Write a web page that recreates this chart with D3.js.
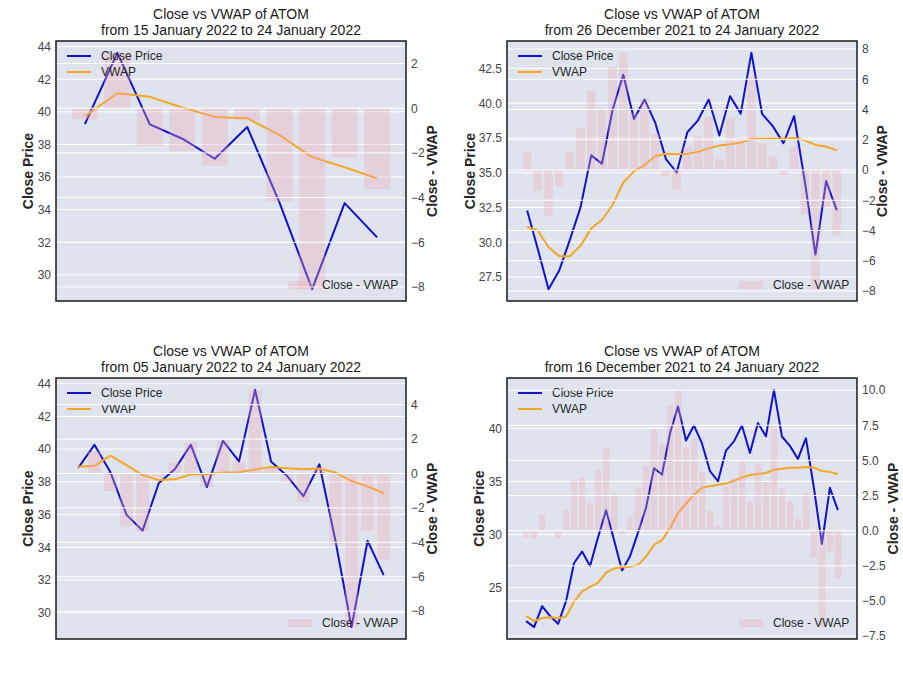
<!DOCTYPE html>
<html>
<head>
<meta charset="utf-8">
<script src="https://cdn.jsdelivr.net/npm/d3@7"></script>
<style>
  body { margin: 0; background: #fff; }
  svg { font-family: "Liberation Sans", Arial, sans-serif; }
</style>
</head>
<body>
<svg id="chart" width="903" height="677"></svg>
<script>
// daily close of ATOM, 16 Dec 2021 .. 24 Jan 2022
const closePrice = [21.86, 21.29, 23.27, 22.33, 21.6, 23.74, 27.33, 28.4, 27.04, 29.75,
    32.29, 29.5, 26.63, 27.97, 30.18, 32.53, 36.25, 35.65, 39.53, 42.05,
    38.86, 40.26, 38.58, 35.98, 35.02, 37.91, 38.77, 40.26, 37.68, 40.5,
    39.25, 43.62, 39.23, 38.35, 37.12, 39.07, 34.4, 29.12, 34.4, 32.3];

// VWAP per window
const vwap15Jan = [39.74, 41.14, 40.92, 40.27, 39.69, 39.61, 38.57, 37.22, 36.6, 35.92];
const vwap26Dec = [31.1, 30.85, 29.65, 29.0, 29.0, 29.75, 31.0, 31.6, 32.7, 34.3,
    35.1, 35.55, 36.2, 36.37, 36.33, 36.37, 36.5, 36.77, 36.95, 37.05,
    37.15, 37.45, 37.45, 37.47, 37.45, 37.5, 37.33, 37.0, 36.88, 36.62];
const vwap05Jan = [38.92, 38.98, 39.6, 39.02, 38.41, 38.11, 38.15, 38.45, 38.46, 38.57,
    38.58, 38.76, 38.9, 38.83, 38.77, 38.81, 38.57, 38.05, 37.72, 37.3];
const vwap16Dec = [22.34, 21.85, 22.15, 22.23, 22.12, 22.3, 23.7, 24.66, 25.08, 25.46,
    26.42, 26.8, 26.92, 26.98, 27.15, 27.92, 29.03, 29.48, 30.6, 32.03,
    32.9, 33.75, 34.4, 34.55, 34.68, 34.8, 35.07, 35.38, 35.6, 35.7,
    35.8, 36.1, 36.2, 36.28, 36.3, 36.37, 36.3, 35.98, 35.9, 35.7];

const titles = [
    "from 15 January 2022 to 24 January 2022",
    "from 26 December 2021 to 24 January 2022",
    "from 05 January 2022 to 24 January 2022",
    "from 16 December 2021 to 24 January 2022"
];
const windowDays = [10, 30, 20, 40];
const vwapSeries = [vwap15Jan, vwap26Dec, vwap05Jan, vwap16Dec];

const leftTicks = [
    [30, 32, 34, 36, 38, 40, 42, 44],
    [27.5, 30, 32.5, 35, 37.5, 40, 42.5],
    [30, 32, 34, 36, 38, 40, 42, 44],
    [25, 30, 35, 40]
];
const rightTicks = [
    [-8, -6, -4, -2, 0, 2],
    [-8, -6, -4, -2, 0, 2, 4, 6, 8],
    [-8, -6, -4, -2, 0, 2, 4],
    [-7.5, -5, -2.5, 0, 2.5, 5, 7.5, 10]
];

const panels = [
    { x: 56, y: 41, w: 350, h: 260, lOff: 23, rOff: 31 },
    { x: 507, y: 41, w: 350, h: 260, lOff: 32, rOff: 30 },
    { x: 56, y: 378, w: 350, h: 261, lOff: 23, rOff: 31 },
    { x: 507, y: 378, w: 350, h: 261, lOff: 23, rOff: 41 }
];

const bgColor = "#dee3ee";
const blue = "#1212c8";
const orange = "#f6a623";
const barFill = "rgb(244,168,178)";
const barOpacity = 0.32;

const svg = d3.select("#chart");

function pad(ext) {
    const r = ext[1] - ext[0];
    return [ext[0] - 0.05 * r, ext[1] + 0.05 * r];
}

function fmtTick(step) {
    return step % 1 === 0 ? d3.format("d") : d3.format(".1f");
}

panels.forEach(function (p, k) {
    const n = windowDays[k];
    const close = closePrice.slice(closePrice.length - n);
    const vw = vwapSeries[k];
    const diff = close.map(function (c, i) { return c - vw[i]; });

    const x = d3.scaleLinear()
        .domain(pad([-0.4, n - 1 + 0.4]))
        .range([p.x, p.x + p.w]);
    const yL = d3.scaleLinear()
        .domain(pad(d3.extent(close.concat(vw))))
        .range([p.y + p.h, p.y]);
    const yR = d3.scaleLinear()
        .domain(pad(d3.extent(diff.concat([0]))))
        .range([p.y + p.h, p.y]);

    const g = svg.append("g");

    // title
    g.append("text")
        .attr("x", p.x + p.w / 2).attr("y", p.y - 22)
        .attr("text-anchor", "middle")
        .attr("font-size", 14).attr("fill", "#1a1a1a")
        .text("Close vs VWAP of ATOM");
    g.append("text")
        .attr("x", p.x + p.w / 2).attr("y", p.y - 6)
        .attr("text-anchor", "middle")
        .attr("font-size", 14).attr("fill", "#1a1a1a")
        .text(titles[k]);

    g.append("rect")
        .attr("x", p.x).attr("y", p.y)
        .attr("width", p.w).attr("height", p.h)
        .attr("fill", bgColor);

    const clipId = "clip" + k;
    svg.append("clipPath").attr("id", clipId)
        .append("rect")
        .attr("x", p.x).attr("y", p.y)
        .attr("width", p.w).attr("height", p.h);

    // left grid
    g.append("g").selectAll("line")
        .data(leftTicks[k])
        .enter().append("line")
        .attr("x1", p.x).attr("x2", p.x + p.w)
        .attr("y1", function (d) { return yL(d); })
        .attr("y2", function (d) { return yL(d); })
        .attr("stroke", "#fff").attr("stroke-width", 1);

    const plot = g.append("g").attr("clip-path", "url(#" + clipId + ")");

    const line = d3.line()
        .x(function (d, i) { return x(i); })
        .y(function (d) { return yL(d); });

    plot.append("path").datum(close)
        .attr("d", line)
        .attr("fill", "none").attr("stroke", blue)
        .attr("stroke-width", 2).attr("stroke-linejoin", "round");
    plot.append("path").datum(vw)
        .attr("d", line)
        .attr("fill", "none").attr("stroke", orange)
        .attr("stroke-width", 2).attr("stroke-linejoin", "round");

    // legend for the lines
    const lg = g.append("g");
    [["Close Price", blue], ["VWAP", orange]].forEach(function (e, i) {
        const ly = p.y + 15 + i * 16;
        lg.append("line")
            .attr("x1", p.x + 11).attr("x2", p.x + 35)
            .attr("y1", ly).attr("y2", ly)
            .attr("stroke", e[1]).attr("stroke-width", 2);
        lg.append("text")
            .attr("x", p.x + 45).attr("y", ly + 4)
            .attr("font-size", 12).attr("fill", "#262626")
            .text(e[0]);
    });

    // right grid
    g.append("g").selectAll("line")
        .data(rightTicks[k])
        .enter().append("line")
        .attr("x1", p.x).attr("x2", p.x + p.w)
        .attr("y1", function (d) { return yR(d); })
        .attr("y2", function (d) { return yR(d); })
        .attr("stroke", "#fff").attr("stroke-width", 1);

    // bars
    const bw = x(0.8) - x(0);
    plot.append("g").selectAll("rect")
        .data(diff)
        .enter().append("rect")
        .attr("x", function (d, i) { return x(i) - bw / 2; })
        .attr("width", bw)
        .attr("y", function (d) { return yR(Math.max(0, d)); })
        .attr("height", function (d) { return Math.abs(yR(d) - yR(0)); })
        .attr("fill", barFill).attr("fill-opacity", barOpacity);

    // legend for the bars
    const by = p.y + p.h - 16;
    g.append("rect")
        .attr("x", p.x + p.w - 118).attr("y", by - 4)
        .attr("width", 24).attr("height", 8)
        .attr("fill", barFill).attr("fill-opacity", barOpacity);
    g.append("text")
        .attr("x", p.x + p.w - 84).attr("y", by + 4)
        .attr("font-size", 12).attr("fill", "#262626")
        .text("Close - VWAP");

    // frame
    g.append("rect")
        .attr("x", p.x).attr("y", p.y)
        .attr("width", p.w).attr("height", p.h)
        .attr("fill", "none").attr("stroke", "#1a1a1a").attr("stroke-width", 1.5);

    // left axis
    const stepL = leftTicks[k][1] - leftTicks[k][0];
    const axL = g.append("g")
        .attr("transform", "translate(" + p.x + ",0)")
        .call(d3.axisLeft(yL).tickValues(leftTicks[k])
            .tickFormat(fmtTick(stepL)).tickSize(0).tickPadding(5));
    axL.select(".domain").remove();
    axL.selectAll("text").attr("font-size", 12).attr("fill", "#444")
        .attr("font-family", "Liberation Sans, Arial, sans-serif");

    // right axis
    const stepR = rightTicks[k][1] - rightTicks[k][0];
    const axR = g.append("g")
        .attr("transform", "translate(" + (p.x + p.w) + ",0)")
        .call(d3.axisRight(yR).tickValues(rightTicks[k])
            .tickFormat(function (d) { return fmtTick(stepR)(d).replace("-", "\u2212"); })
            .tickSize(0).tickPadding(5));
    axR.select(".domain").remove();
    axR.selectAll("text").attr("font-size", 12).attr("fill", "#444")
        .attr("font-family", "Liberation Sans, Arial, sans-serif");

    // axis titles
    g.append("text")
        .attr("transform", "translate(" + (p.x - p.lOff) + "," + (p.y + p.h / 2) + ") rotate(-90)")
        .attr("text-anchor", "middle")
        .attr("font-size", 14).attr("font-weight", "bold").attr("fill", "#262626")
        .text("Close Price");
    g.append("text")
        .attr("transform", "translate(" + (p.x + p.w + p.rOff) + "," + (p.y + p.h / 2) + ") rotate(-90)")
        .attr("text-anchor", "middle")
        .attr("font-size", 14).attr("font-weight", "bold").attr("fill", "#262626")
        .text("Close - VWAP");
});
</script>
</body>
</html>
